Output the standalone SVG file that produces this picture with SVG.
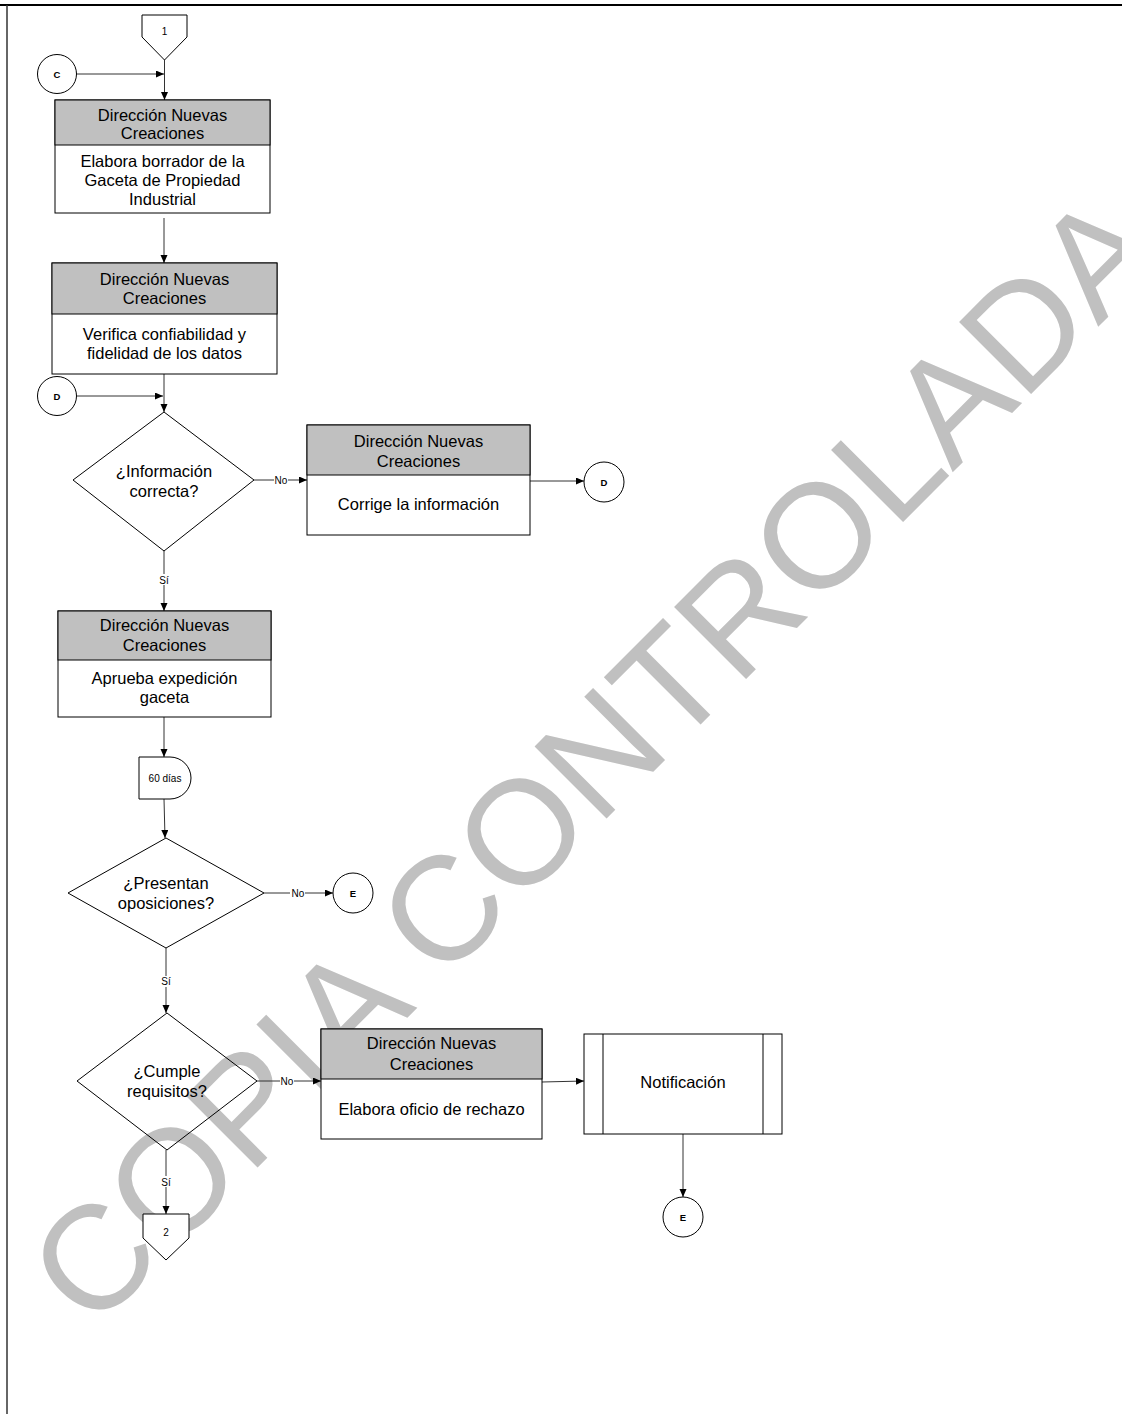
<svg xmlns="http://www.w3.org/2000/svg" width="1122" height="1414" viewBox="0 0 1122 1414">
<style>
text{font-family:"Liberation Sans",Arial,sans-serif;fill:#000}
.t{font-size:16.5px;text-anchor:middle}
.s{font-size:10px;text-anchor:middle}
.cb{font-size:9.5px;font-weight:bold;text-anchor:middle}
.box{fill:#fff;stroke:#000;stroke-width:1}
.hdr{fill:#c0c0c0;stroke:#000;stroke-width:1}
.dia{fill:none;stroke:#000;stroke-width:1}
.ln{fill:none;stroke:#333;stroke-width:1}
.wm{font-size:148px;fill:#c0c0c0}
</style>
<defs>
<marker id="ah" markerUnits="userSpaceOnUse" markerWidth="9" markerHeight="8" refX="8" refY="3.5" orient="auto">
<path d="M0,0 L8,3.5 L0,7 Z" fill="#000"/>
</marker>
</defs>
<rect width="1122" height="1414" fill="#fff"/>
<g id="border">
<line x1="0" y1="5" x2="1122" y2="5" stroke="#000" stroke-width="2"/>
<line x1="7" y1="5" x2="7" y2="1414" stroke="#333" stroke-width="1.5"/>
</g>
<g id="watermark">
<text class="wm" transform="translate(92,1333) rotate(-45)">COPIA CONTROLADA</text>
</g>
<g id="connectors">
<path class="ln" d="M164.5,60 V100" marker-end="url(#ah)"/>
<path class="ln" d="M76,74 H164" marker-end="url(#ah)"/>
<path class="ln" d="M164,218 V263" marker-end="url(#ah)"/>
<path class="ln" d="M164,374 V412" marker-end="url(#ah)"/>
<path class="ln" d="M77,396 H163" marker-end="url(#ah)"/>
<path class="ln" d="M254,480 H307" marker-end="url(#ah)"/>
<path class="ln" d="M530,481 H584" marker-end="url(#ah)"/>
<path class="ln" d="M164,551 V611" marker-end="url(#ah)"/>
<path class="ln" d="M164,717 V757" marker-end="url(#ah)"/>
<path class="ln" d="M164,799 L165,838" marker-end="url(#ah)"/>
<path class="ln" d="M264,893 H333" marker-end="url(#ah)"/>
<path class="ln" d="M166,948 V1013" marker-end="url(#ah)"/>
<path class="ln" d="M257,1081 H321" marker-end="url(#ah)"/>
<path class="ln" d="M542,1082 L584,1081" marker-end="url(#ah)"/>
<path class="ln" d="M683,1134 V1197" marker-end="url(#ah)"/>
<path class="ln" d="M166,1150 V1214" marker-end="url(#ah)"/>
<g id="labels">
<rect x="274" y="474" width="14" height="11" fill="#fff"/>
<text class="s" x="281" y="484">No</text>
<rect x="158" y="574" width="12" height="11" fill="#fff"/>
<text class="s" x="164" y="584">Sí</text>
<rect x="290" y="887" width="15" height="11" fill="#fff"/>
<text class="s" x="298" y="897">No</text>
<rect x="160" y="976" width="12" height="11" fill="#fff"/>
<text class="s" x="166" y="985">Sí</text>
<rect x="280" y="1076" width="14" height="11" fill="#fff"/>
<text class="s" x="287" y="1085">No</text>
<rect x="160" y="1176" width="12" height="11" fill="#fff"/>
<text class="s" x="166" y="1186">Sí</text>
</g>
</g>
<g id="off1">
<polygon class="box" points="142,15 187,15 187,37 164.5,60 142,37"/>
<text class="s" x="164.5" y="35">1</text>
</g>
<g id="cC">
<circle class="box" cx="57" cy="74" r="19.5"/>
<text class="cb" x="57" y="77.5">C</text>
</g>
<g id="n1">
<rect class="box" x="55" y="100" width="215" height="113"/>
<rect class="hdr" x="55" y="100" width="215" height="45"/>
<text class="t" x="162.5" y="120.5">Dirección Nuevas</text>
<text class="t" x="162.5" y="139">Creaciones</text>
<text class="t" x="162.5" y="166.5">Elabora borrador de la</text>
<text class="t" x="162.5" y="186">Gaceta de Propiedad</text>
<text class="t" x="162.5" y="205">Industrial</text>
</g>
<g id="n2">
<rect class="box" x="52" y="263" width="225" height="111"/>
<rect class="hdr" x="52" y="263" width="225" height="51"/>
<text class="t" x="164.5" y="285">Dirección Nuevas</text>
<text class="t" x="164.5" y="304">Creaciones</text>
<text class="t" x="164.5" y="340">Verifica confiabilidad y</text>
<text class="t" x="164.5" y="359">fidelidad de los datos</text>
</g>
<g id="cD1">
<circle class="box" cx="57" cy="396" r="19.5"/>
<text class="cb" x="57" y="399.5">D</text>
</g>
<g id="d1">
<polygon class="dia" points="164,412 254,480 164,551 73,480"/>
<text class="t" x="164" y="477">¿Información</text>
<text class="t" x="164" y="497">correcta?</text>
</g>
<g id="n3">
<rect class="box" x="307" y="425" width="223" height="110"/>
<rect class="hdr" x="307" y="425" width="223" height="50"/>
<text class="t" x="418.5" y="446.5">Dirección Nuevas</text>
<text class="t" x="418.5" y="466.5">Creaciones</text>
<text class="t" x="418.5" y="510">Corrige la información</text>
</g>
<g id="cD2">
<circle class="box" cx="604" cy="482" r="20"/>
<text class="cb" x="604" y="485.5">D</text>
</g>
<g id="n4">
<rect class="box" x="58" y="611" width="213" height="106"/>
<rect class="hdr" x="58" y="611" width="213" height="49"/>
<text class="t" x="164.5" y="631">Dirección Nuevas</text>
<text class="t" x="164.5" y="651">Creaciones</text>
<text class="t" x="164.5" y="684">Aprueba expedición</text>
<text class="t" x="164.5" y="703">gaceta</text>
</g>
<g id="delay">
<path class="box" d="M139,757 H170 A21,21 0 0 1 170,799 H139 Z"/>
<text class="s" x="165" y="781.5">60 días</text>
</g>
<g id="d2">
<polygon class="dia" points="166,838 264,893 166,948 68,893"/>
<text class="t" x="166" y="889">¿Presentan</text>
<text class="t" x="166" y="909">oposiciones?</text>
</g>
<g id="cE1">
<circle class="box" cx="353" cy="893" r="20"/>
<text class="cb" x="353" y="896.5">E</text>
</g>
<g id="d3">
<polygon class="dia" points="167,1013 257,1081 167,1150 77,1081"/>
<text class="t" x="167" y="1077">¿Cumple</text>
<text class="t" x="167" y="1097">requisitos?</text>
</g>
<g id="n5">
<rect class="box" x="321" y="1029" width="221" height="110"/>
<rect class="hdr" x="321" y="1029" width="221" height="50"/>
<text class="t" x="431.5" y="1049">Dirección Nuevas</text>
<text class="t" x="431.5" y="1070">Creaciones</text>
<text class="t" x="431.5" y="1115">Elabora oficio de rechazo</text>
</g>
<g id="n6">
<rect class="box" x="584" y="1034" width="198" height="100"/>
<line class="dia" x1="603" y1="1034" x2="603" y2="1134"/>
<line class="dia" x1="763" y1="1034" x2="763" y2="1134"/>
<text class="t" x="683" y="1088">Notificación</text>
</g>
<g id="cE2">
<circle class="box" cx="683" cy="1217" r="20"/>
<text class="cb" x="683" y="1220.5">E</text>
</g>
<g id="off2">
<polygon class="box" points="143,1214 189,1214 189,1238 166,1260 143,1238"/>
<text class="s" x="166" y="1236">2</text>
</g>
</svg>
